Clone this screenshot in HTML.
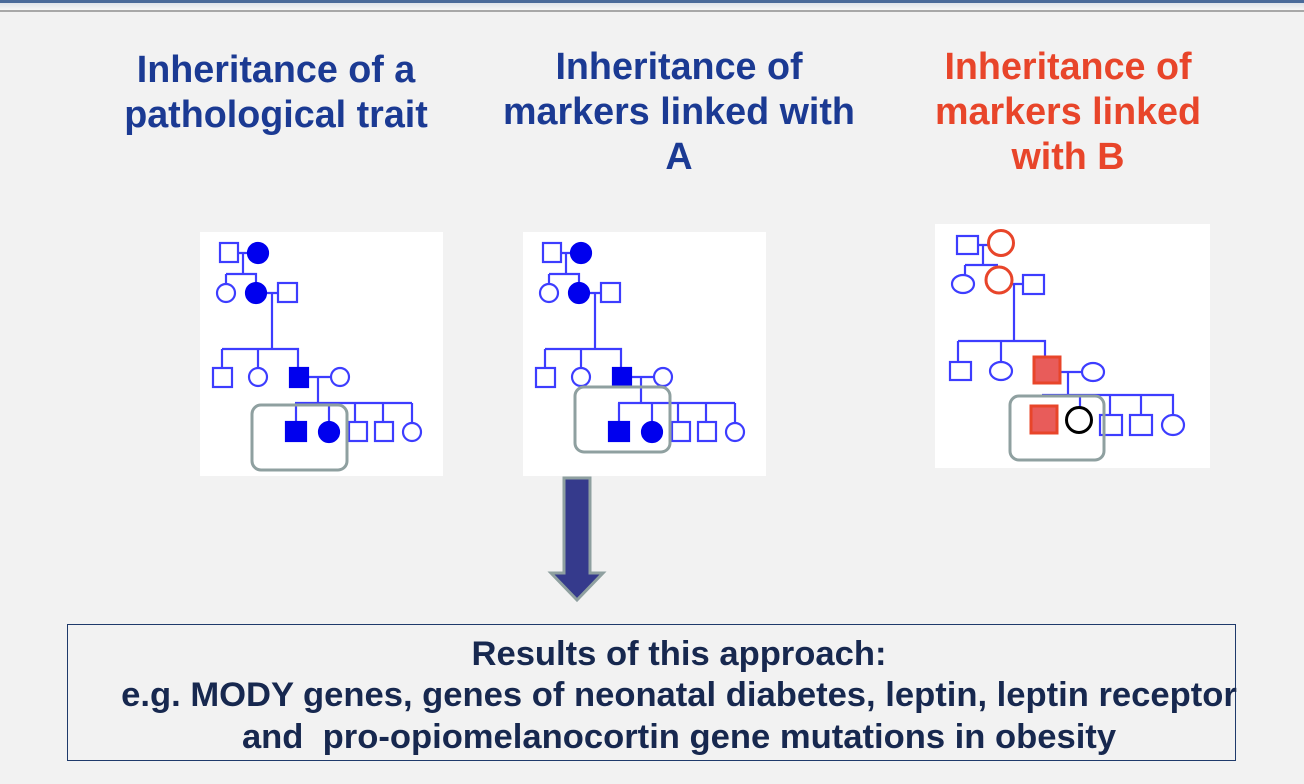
<!DOCTYPE html>
<html><head><meta charset="utf-8"><style>
html,body{margin:0;padding:0;width:1304px;height:784px;overflow:hidden;background:#f2f2f2;font-family:"Liberation Sans",Arial,sans-serif}
.t{position:absolute;font-weight:bold;font-size:37.7px;line-height:45px;text-align:center;color:#1b3a93;white-space:nowrap}
.box{position:absolute;left:67px;top:624px;width:1169px;height:137px;border:1.5px solid #1f3a6b;box-sizing:border-box}
.r{position:absolute;left:0;width:1358px;text-align:center;font-weight:bold;font-size:34.6px;line-height:40px;color:#17284f;white-space:nowrap}
</style></head><body>
<div style="position:absolute;left:0;top:0;width:1304px;height:3px;background:#4a6a9a"></div>
<div style="position:absolute;left:0;top:3px;width:1304px;height:7px;background:linear-gradient(#dfe3ea,#f6f6f6)"></div>
<div style="position:absolute;left:0;top:10px;width:1304px;height:2px;background:#a8a8a8"></div>

<div class="t" style="left:76px;width:400px;top:47px">Inheritance of a<br>pathological trait</div>
<div class="t" style="left:479px;width:400px;top:44px">Inheritance of<br>markers linked with<br>A</div>
<div class="t" style="left:868px;width:400px;top:44px;color:#e8452a">Inheritance of<br>markers linked<br>with B</div>

<svg width="1304" height="784" style="position:absolute;left:0;top:0">
<defs>
<g id="ped" stroke="#3d3dff" stroke-width="2.2" fill="none">
<rect x="0" y="0" width="243" height="244" fill="#fff" stroke="none"/>
<path d="M38 21H48M43 21V42M26 42H56V50M26 42V52M66 61H78M72 61V117M22 117H98V136M22 117V136M58 117V136M108 145H130M118 145V171M95 171H212M96 171V190M129 171V190M155 171V190M183 171V190M212 171V190"/>
<rect x="20" y="11" width="18" height="19" fill="#fff"/>
<circle cx="58" cy="21" r="10" fill="#0000ee" stroke="#0000ee"/>
<circle cx="26" cy="61" r="9" fill="#fff"/>
<circle cx="56" cy="61" r="10" fill="#0000ee" stroke="#0000ee"/>
<rect x="78" y="51" width="19" height="19" fill="#fff"/>
<rect x="13" y="136" width="19" height="19" fill="#fff"/>
<circle cx="58" cy="145" r="9" fill="#fff"/>
<rect x="90" y="136" width="18" height="19" fill="#0000ee" stroke="#0000ee"/>
<circle cx="140" cy="145" r="9" fill="#fff"/>
<rect x="86" y="190" width="20" height="19" fill="#0000ee" stroke="#0000ee"/>
<circle cx="129" cy="200" r="10" fill="#0000ee" stroke="#0000ee"/>
<rect x="149" y="190" width="18" height="19" fill="#fff"/>
<rect x="175" y="190" width="18" height="19" fill="#fff"/>
<circle cx="212" cy="200" r="9" fill="#fff"/>
</g>
</defs>
<use href="#ped" x="200" y="232"/>
<use href="#ped" x="523" y="232"/>
<rect x="252" y="405" width="95" height="65" rx="9" fill="none" stroke="#8fa0a0" stroke-width="3"/>
<rect x="575" y="387" width="95" height="65" rx="9" fill="none" stroke="#8fa0a0" stroke-width="3"/>

<rect x="935" y="224" width="275" height="244" fill="#fff"/>
<g stroke="#3d3dff" stroke-width="2.2" fill="none">
<path d="M978 245H989M983 245V265M965 265H998M965 265V276M1012 284H1023M1014 284V341M958 341H1045V356M958 341V362M1001 341V362M1060 372H1082M1068 372V395M1042 395H1173V405M1080 395V407M1110 395V415M1141 395V415M1173 395V415"/>
<rect x="957" y="236" width="21" height="18" fill="#fff"/>
<ellipse cx="963" cy="284" rx="11" ry="9" fill="#fff"/>
<rect x="1023" y="275" width="21" height="19" fill="#fff"/>
<rect x="950" y="362" width="21" height="18" fill="#fff"/>
<ellipse cx="1001" cy="371" rx="11" ry="9" fill="#fff"/>
<ellipse cx="1093" cy="372" rx="11" ry="9" fill="#fff"/>
<rect x="1100" y="415" width="22" height="20" fill="#fff"/>
<rect x="1130" y="415" width="22" height="20" fill="#fff"/>
<ellipse cx="1173" cy="425" rx="11" ry="10" fill="#fff"/>
</g>
<circle cx="1001" cy="243" r="12.5" fill="#fff" stroke="#e8452a" stroke-width="3"/>
<circle cx="999" cy="280" r="13" fill="#fff" stroke="#e8452a" stroke-width="3"/>
<rect x="1034" y="357" width="26" height="26" fill="#e85c5a" stroke="#e8452a" stroke-width="3"/>
<rect x="1031" y="406" width="26" height="27" fill="#e85c5a" stroke="#e8452a" stroke-width="3"/>
<circle cx="1079" cy="420" r="12.5" fill="#fff" stroke="#000" stroke-width="3"/>
<rect x="1010" y="396" width="94" height="64" rx="9" fill="none" stroke="#8fa0a0" stroke-width="3"/>

<path d="M564 478H590V573H603L577 600L551 573H564Z" fill="#353a8c" stroke="#8fa0a0" stroke-width="3"/>
</svg>

<div class="box"></div>
<div class="r" style="top:634px">Results of this approach:</div>
<div class="r" style="top:675px">e.g. MODY genes, genes of neonatal diabetes, leptin, leptin receptor</div>
<div class="r" style="top:717px">and&nbsp; pro-opiomelanocortin gene mutations in obesity</div>
</body></html>
